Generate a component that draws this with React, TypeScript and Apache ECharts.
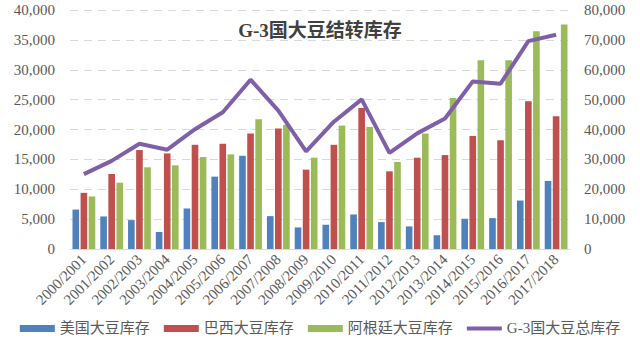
import React, { useEffect, useRef } from "react";
import * as echarts from "echarts";

const categories = [
  "2000/2001", "2001/2002", "2002/2003", "2003/2004", "2004/2005", "2005/2006",
  "2006/2007", "2007/2008", "2008/2009", "2009/2010", "2010/2011", "2011/2012",
  "2012/2013", "2013/2014", "2014/2015", "2015/2016", "2016/2017", "2017/2018",
];
const usStocks = [6600, 5450, 4830, 2850, 6780, 12110, 15600, 5500, 3610, 4060, 5780, 4500, 3780, 2300, 5060, 5170, 8110, 11390];
const brazilStocks = [9400, 12550, 16560, 16000, 17440, 17610, 19330, 20170, 13280, 17440, 23600, 13000, 15280, 15720, 18920, 18200, 24720, 22210];
const argentinaStocks = [8800, 11100, 13670, 14000, 15390, 15830, 21720, 20780, 15280, 20660, 20430, 14560, 19320, 25270, 31570, 31570, 36460, 37580];
const g3Total = [25050, 29500, 35230, 33230, 40100, 45770, 56670, 46330, 32700, 42600, 50100, 32200, 38700, 43660, 56100, 55350, 69580, 71700];

const seriesNames = ["美国大豆库存", "巴西大豆库存", "阿根廷大豆库存", "G-3国大豆总库存"];
const titleText = "G-3国大豆结转库存";

const FONT = "'Liberation Serif', 'Noto Sans CJK SC', serif";
const TXT = "#595959";

export default function App() {
  const ref = useRef<HTMLDivElement>(null);
  useEffect(() => {
    if (!ref.current) return;
    const chart = echarts.init(ref.current, undefined, { renderer: "svg" });
    const fmt = (v: number) => v.toLocaleString("en-US");
    chart.setOption({
      animation: false,
      backgroundColor: "#ffffff",
      title: {
        text: titleText,
        left: "center",
        top: 16,
        textStyle: { fontFamily: FONT, fontSize: 19, fontWeight: "bold", color: "#404040" },
      },
      legend: {
        bottom: 11,
        left: "center",
        itemGap: 14,
        itemWidth: 35,
        itemHeight: 7,
        textStyle: { fontFamily: FONT, fontSize: 15, color: TXT },
        data: [
          { name: seriesNames[0], icon: "rect" },
          { name: seriesNames[1], icon: "rect" },
          { name: seriesNames[2], icon: "rect" },
          { name: seriesNames[3], icon: "path://M0,0 L35,0 L35,4 L0,4 Z" },
        ],
      },
      grid: { left: 70, right: 70, top: 10, bottom: 103, containLabel: false },
      xAxis: {
        type: "category",
        data: categories,
        axisLine: { show: true, lineStyle: { color: "#d9d9d9", width: 1 } },
        axisTick: { show: false },
        axisLabel: {
          interval: 0,
          rotate: 45,
          margin: 8,
          fontFamily: FONT,
          fontSize: 15,
          color: TXT,
        },
      },
      yAxis: [
        {
          type: "value",
          min: 0,
          max: 40000,
          interval: 5000,
          axisLine: { show: false },
          axisTick: { show: false },
          splitLine: { lineStyle: { color: "#d9d9d9", type: [8, 6], width: 1 } },
          axisLabel: { formatter: fmt, fontFamily: FONT, fontSize: 15, color: TXT, margin: 15 },
        },
        {
          type: "value",
          min: 0,
          max: 80000,
          interval: 10000,
          axisLine: { show: false },
          axisTick: { show: false },
          splitLine: { show: false },
          axisLabel: { formatter: fmt, fontFamily: FONT, fontSize: 15, color: TXT, margin: 14 },
        },
      ],
      series: [
        {
          name: seriesNames[0],
          type: "bar",
          data: usStocks,
          itemStyle: { color: "#4f81bd" },
          barGap: "22%",
          barCategoryGap: "18%",
        },
        { name: seriesNames[1], type: "bar", data: brazilStocks, itemStyle: { color: "#c0504d" } },
        { name: seriesNames[2], type: "bar", data: argentinaStocks, itemStyle: { color: "#9bbb59" } },
        {
          name: seriesNames[3],
          type: "line",
          yAxisIndex: 1,
          data: g3Total,
          symbol: "none",
          lineStyle: { color: "#7f60a8", width: 4 },
          itemStyle: { color: "#7f60a8" },
        },
      ],
    });
    return () => chart.dispose();
  }, []);
  return (
    <div
      ref={ref}
      style={{ position: "fixed", left: 0, top: 0, width: 640, height: 352 }}
    />
  );
}
